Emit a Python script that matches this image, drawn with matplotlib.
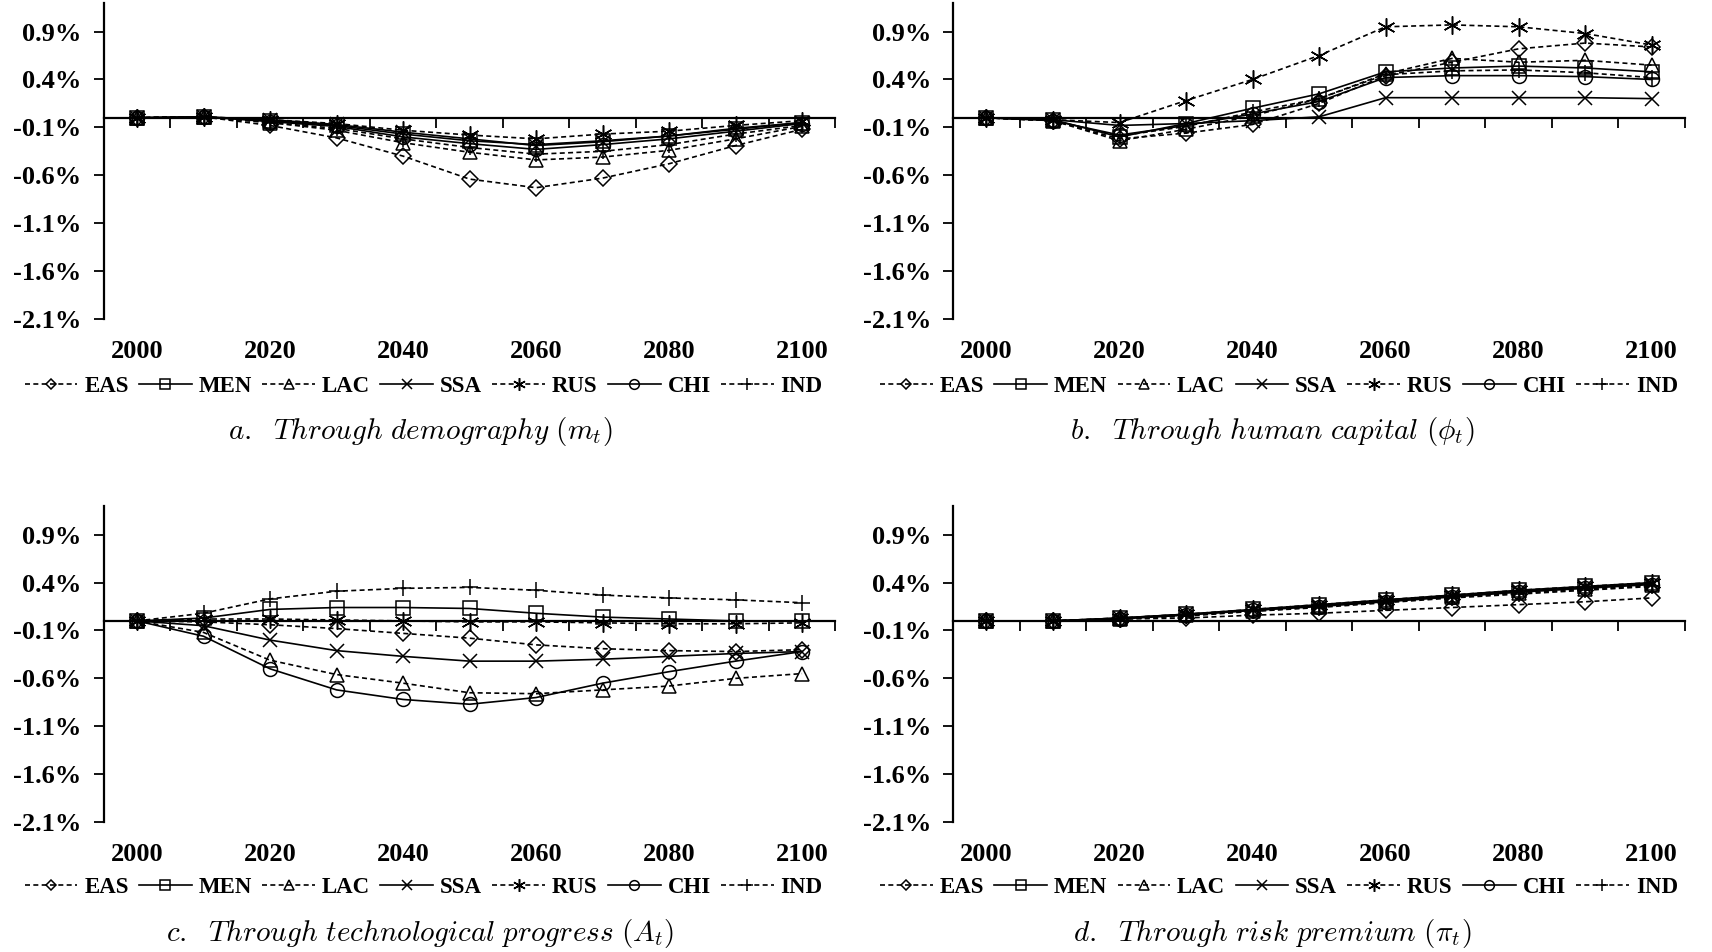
import numpy as np
import matplotlib.pyplot as plt

plt.rcParams["mathtext.fontset"] = "cm"

years = list(range(2000, 2101, 10))
label_years = [2000, 2020, 2040, 2060, 2080, 2100]
regions = ["EAS", "MEN", "LAC", "SSA", "RUS", "CHI", "IND"]
yticks = [-2.1, -1.6, -1.1, -0.6, -0.1, 0.4, 0.9]
ytick_labels = ["-2.1%", "-1.6%", "-1.1%", "-0.6%", "-0.1%", "0.4%", "0.9%"]

# a. demography
demography = {
    "EAS": [0, 0.01, -0.08, -0.21, -0.40, -0.64, -0.73, -0.63, -0.48, -0.29, -0.12],
    "MEN": [0, 0.01, -0.03, -0.08, -0.17, -0.24, -0.28, -0.24, -0.19, -0.12, -0.05],
    "LAC": [0, 0.01, -0.05, -0.13, -0.26, -0.36, -0.44, -0.41, -0.34, -0.22, -0.09],
    "SSA": [0, 0.01, -0.02, -0.07, -0.15, -0.22, -0.29, -0.25, -0.19, -0.11, -0.05],
    "RUS": [0, 0.01, -0.02, -0.06, -0.13, -0.18, -0.22, -0.17, -0.14, -0.08, -0.03],
    "CHI": [0, 0.01, -0.04, -0.09, -0.20, -0.27, -0.33, -0.28, -0.22, -0.14, -0.06],
    "IND": [0, 0.01, -0.05, -0.11, -0.22, -0.31, -0.38, -0.35, -0.28, -0.17, -0.08],
}

# b. human capital
human_capital = {
    "EAS": [0, -0.03, -0.22, -0.16, -0.07, 0.15, 0.44, 0.58, 0.72, 0.78, 0.74],
    "MEN": [0, -0.02, -0.20, -0.06, 0.10, 0.25, 0.48, 0.52, 0.54, 0.52, 0.48],
    "LAC": [0, -0.03, -0.24, -0.12, 0.02, 0.20, 0.46, 0.62, 0.58, 0.60, 0.55],
    "SSA": [0, -0.02, -0.08, -0.06, -0.03, 0.01, 0.21, 0.21, 0.21, 0.21, 0.20],
    "RUS": [0, -0.02, -0.05, 0.18, 0.40, 0.65, 0.95, 0.97, 0.95, 0.88, 0.76],
    "CHI": [0, -0.03, -0.18, -0.08, 0.04, 0.17, 0.42, 0.44, 0.44, 0.43, 0.40],
    "IND": [0, -0.03, -0.19, -0.09, 0.06, 0.20, 0.45, 0.49, 0.50, 0.47, 0.42],
}

# c. technological progress
technology = {
    "EAS": [0, -0.01, -0.04, -0.08, -0.13, -0.18, -0.25, -0.29, -0.31, -0.32, -0.30],
    "MEN": [0, 0.03, 0.12, 0.14, 0.14, 0.13, 0.08, 0.04, 0.02, 0.00, 0.00],
    "LAC": [0, -0.12, -0.41, -0.56, -0.65, -0.75, -0.76, -0.72, -0.68, -0.60, -0.55],
    "SSA": [0, -0.05, -0.20, -0.31, -0.37, -0.42, -0.42, -0.40, -0.37, -0.34, -0.32],
    "RUS": [0, 0.02, 0.02, 0.01, 0.00, -0.01, -0.01, -0.02, -0.03, -0.03, -0.02],
    "CHI": [0, -0.16, -0.50, -0.72, -0.82, -0.87, -0.80, -0.65, -0.53, -0.42, -0.32],
    "IND": [0, 0.08, 0.23, 0.31, 0.34, 0.35, 0.32, 0.27, 0.24, 0.22, 0.19],
}

# d. risk premium
risk_premium = {
    "EAS": [0, 0.00, 0.02, 0.03, 0.06, 0.08, 0.11, 0.14, 0.17, 0.20, 0.24],
    "MEN": [0, 0.00, 0.03, 0.07, 0.12, 0.17, 0.22, 0.27, 0.32, 0.36, 0.40],
    "LAC": [0, 0.00, 0.02, 0.06, 0.10, 0.15, 0.20, 0.25, 0.29, 0.33, 0.37],
    "SSA": [0, 0.00, 0.03, 0.07, 0.11, 0.16, 0.21, 0.26, 0.31, 0.35, 0.39],
    "RUS": [0, 0.00, 0.03, 0.07, 0.12, 0.17, 0.22, 0.27, 0.32, 0.36, 0.40],
    "CHI": [0, 0.00, 0.02, 0.06, 0.11, 0.15, 0.20, 0.25, 0.30, 0.34, 0.38],
    "IND": [0, 0.00, 0.02, 0.05, 0.10, 0.14, 0.19, 0.24, 0.28, 0.32, 0.36],
}

captions = [
    r"$\mathit{a.\ \ Through\ demography}\ (m_t)$",
    r"$\mathit{b.\ \ Through\ human\ capital}\ (\phi_t)$",
    r"$\mathit{c.\ \ Through\ technological\ progress}\ (A_t)$",
    r"$\mathit{d.\ \ Through\ risk\ premium}\ (\pi_t)$",
]

# line style, marker, marker size per region
styles = {
    "EAS": ((0, (3, 2)), "D", 8),
    "MEN": ("-", "s", 10),
    "LAC": ((0, (3, 2)), "^", 10),
    "SSA": ("-", "x", 10),
    "RUS": ((0, (3, 2)), (6, 2, 0), 13),
    "CHI": ("-", "o", 10),
    "IND": ((0, (3, 2)), "+", 12),
}

SERIF = "Liberation Serif"


def draw_panel(ax, data):
    for r in regions:
        ls, mk, ms = styles[r]
        ax.plot(years, data[r], color="black", linestyle=ls, linewidth=1.2,
                marker=mk, markersize=ms, markerfacecolor="none",
                markeredgecolor="black", markeredgewidth=1.1, label=r)
    ax.set_xlim(1995, 2105)
    ax.set_ylim(-2.1, 1.2)
    ax.spines["top"].set_visible(False)
    ax.spines["right"].set_visible(False)
    ax.spines["left"].set_linewidth(1.6)
    ax.spines["bottom"].set_position(("data", 0))
    ax.spines["bottom"].set_linewidth(1.6)
    # category boundaries as tick marks on the zero line
    ax.set_xticks(np.arange(2005, 2106, 10))
    ax.tick_params(axis="x", direction="out", length=7, width=1.3, labelbottom=False)
    ax.set_yticks(yticks)
    ax.set_yticklabels(ytick_labels, fontfamily=SERIF, fontweight="bold", fontsize=19)
    ax.tick_params(axis="y", direction="out", length=7, width=1.3, pad=9)
    sec = ax.secondary_xaxis("bottom")
    sec.set_xticks(label_years)
    sec.set_xticklabels([str(y) for y in label_years], fontfamily=SERIF,
                        fontweight="bold", fontsize=19)
    sec.tick_params(length=0, pad=15)
    sec.spines["bottom"].set_visible(False)


fig = plt.figure(figsize=(17.12, 9.52), dpi=100)

panels = [demography, human_capital, technology, risk_premium]
lefts = [0.0606, 0.5568, 0.0606, 0.5568]
bottoms = [0.665, 0.665, 0.1365, 0.1365]
legend_x = [0.2475, 0.747, 0.2475, 0.747]
legend_y = [0.594, 0.594, 0.0677, 0.0677]
caption_x = [0.2455, 0.743, 0.2455, 0.743]
caption_y = [0.547, 0.547, 0.0195, 0.0195]

for i, data in enumerate(panels):
    ax = fig.add_axes([lefts[i], bottoms[i], 0.4273, 0.332])
    draw_panel(ax, data)
    handles, labels = ax.get_legend_handles_labels()
    fig.legend(handles, labels, loc="center", bbox_to_anchor=(legend_x[i], legend_y[i]),
               ncol=7, frameon=False, handlelength=2.3, handletextpad=0.3,
               columnspacing=0.45, markerscale=0.7,
               prop={"family": SERIF, "weight": "bold", "size": 16.5})
    fig.text(caption_x[i], caption_y[i], captions[i], ha="center", va="center",
             fontsize=21)

fig.savefig("out.png", dpi=100)
